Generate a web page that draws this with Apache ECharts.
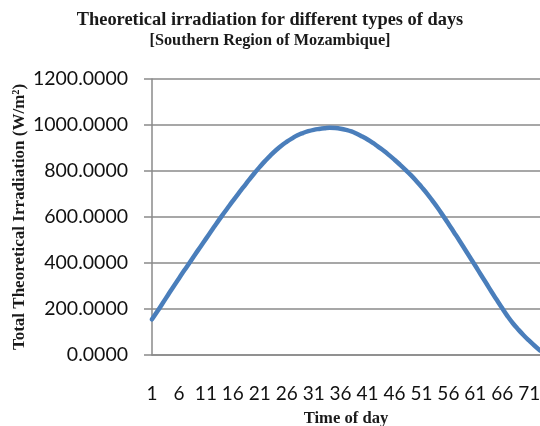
<!DOCTYPE html>
<html>
<head>
<meta charset="utf-8">
<script src="https://cdn.jsdelivr.net/npm/echarts@6/dist/echarts.min.js"></script>
<style>
  html, body { margin: 0; padding: 0; background: #fff; }
  #chart { width: 540px; height: 426px; }
</style>
</head>
<body>
<div id="chart"></div>
<script>
// Time-of-day steps along the horizontal axis
const timeSteps = [
  '1','2','3','4','5','6','7','8','9','10',
  '11','12','13','14','15','16','17','18','19','20',
  '21','22','23','24','25','26','27','28','29','30',
  '31','32','33','34','35','36','37','38','39','40',
  '41','42','43','44','45','46','47','48','49','50',
  '51','52','53','54','55','56','57','58','59','60',
  '61','62','63','64','65','66','67','68','69','70',
  '71','72','73'
];

// Total theoretical irradiation (W/m²) at each step
const irradiation = [
  155, 190, 226, 262, 298, 333, 368, 402, 437, 471,
  505, 539, 573, 606, 638, 670, 701, 731, 761, 790,
  818, 844, 868, 890, 910, 927, 942, 955, 965, 973,
  979, 983, 986, 988, 987, 984, 979, 972, 962, 950,
  937, 922, 905, 888, 869, 849, 828, 806, 783, 758,
  731, 703, 672, 640, 606, 571, 535, 499, 462, 425,
  388, 350, 313, 275, 239, 203, 168, 137, 110, 85,
  62, 40, 20
];

// Value axis ticks
const yTicks = { min: 0, max: 1200, step: 200 };

const titleText = 'Theoretical irradiation for different types of days';
const subtitleText = '[Southern Region of Mozambique]';
const xAxisTitle = 'Time of day';
const yAxisTitle = 'Total Theoretical Irradiation (W/m²)';

const gridGray = '#8a8a8a';
const serif = '"Liberation Serif", "DejaVu Serif", serif';
const sans = 'Lato, "Liberation Sans", sans-serif';

const chart = echarts.init(document.getElementById('chart'), null, { renderer: 'canvas' });

chart.setOption({
  animation: false,
  backgroundColor: '#ffffff',
  title: [
    {
      text: titleText,
      left: 'center',
      top: 6,
      textStyle: { fontFamily: serif, fontWeight: 'bold', fontSize: 18.4, color: '#1a1a1a' }
    },
    {
      text: subtitleText,
      left: 'center',
      top: 28,
      textStyle: { fontFamily: serif, fontWeight: 'bold', fontSize: 16.3, color: '#1a1a1a' }
    }
  ],
  grid: {
    left: 152, right: 0, top: 79, bottom: 71,
    containLabel: false,
    outerBoundsMode: 'none'
  },
  xAxis: {
    type: 'category',
    data: timeSteps,
    boundaryGap: false,
    name: xAxisTitle,
    nameLocation: 'middle',
    nameGap: 55,
    nameTextStyle: { fontFamily: serif, fontWeight: 'bold', fontSize: 16.6, color: '#1a1a1a' },
    axisLine: { lineStyle: { color: gridGray, width: 1.5 } },
    axisTick: { show: false },
    axisLabel: {
      interval: 4,
      margin: 29,
      fontFamily: sans,
      fontSize: 19,
      color: '#111'
    },
    splitLine: { show: false }
  },
  yAxis: {
    type: 'value',
    min: yTicks.min,
    max: yTicks.max,
    interval: yTicks.step,
    name: yAxisTitle,
    nameLocation: 'middle',
    nameRotate: 90,
    nameGap: 124,
    nameMoveOverlap: false,
    nameTextStyle: { fontFamily: serif, fontWeight: 'bold', fontSize: 17, color: '#1a1a1a' },
    axisLine: { show: true, lineStyle: { color: gridGray, width: 1.5 } },
    axisTick: { show: true, length: 8, lineStyle: { color: gridGray, width: 1.5 } },
    axisLabel: {
      margin: 24,
      fontFamily: sans,
      fontSize: 19.5,
      color: '#111',
      formatter: v => v.toFixed(4)
    },
    splitLine: { lineStyle: { color: gridGray, width: 1.5 } }
  },
  series: [
    {
      type: 'line',
      data: irradiation,
      smooth: true,
      showSymbol: false,
      clip: false,
      lineStyle: { color: '#4a7ebb', width: 4.5, cap: 'round' }
    }
  ]
});
</script>
</body>
</html>
